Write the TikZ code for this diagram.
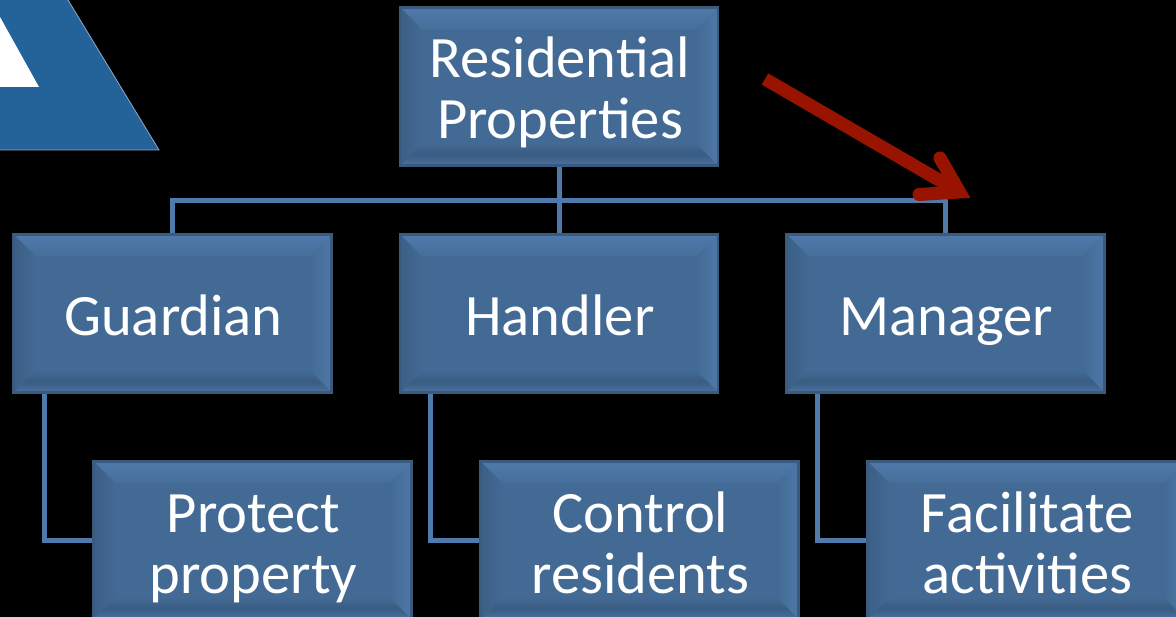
\documentclass[tikz,border=0pt]{standalone}
\usepackage{fontspec}
\setmainfont{Carlito}
\usetikzlibrary{calc}
\definecolor{faceblue}{HTML}{436A94}
\definecolor{toplight}{HTML}{4F79AA}
\definecolor{leftdark}{HTML}{3B5F85}
\definecolor{rightlight}{HTML}{4E78A9}
\definecolor{bottomdark}{HTML}{395C82}
\definecolor{bottomedge}{HTML}{4A729F}
\definecolor{edgeblue}{HTML}{3A5A7E}
\definecolor{linkblue}{HTML}{4F7BAC}
\definecolor{logoblue}{HTML}{246399}
\definecolor{logoedge}{HTML}{8FA9C9}
\definecolor{arrowred}{HTML}{991400}
\newcommand{\ls}[1]{\hspace*{2pt}\rule[-4pt]{0pt}{52pt}\smash{#1}}
\tikzset{
  x=1pt,y=-1pt,
  orgbox/.style={
    minimum width=318pt,minimum height=158pt,inner sep=0pt,
    align=center,text=white,font=\fontsize{58.6}{61}\selectfont,
    draw=edgeblue,line width=2.5pt,fill=faceblue,
    path picture={
      \coordinate (tl) at (path picture bounding box.north west);
      \coordinate (br) at (path picture bounding box.south east);
      \coordinate (tr) at (path picture bounding box.north east);
      \coordinate (bl) at (path picture bounding box.south west);
      \coordinate (itl) at ($(tl)+(22,22)$);
      \coordinate (itr) at ($(tr)+(-22,22)$);
      \coordinate (ibl) at ($(bl)+(22,-22)$);
      \coordinate (ibr) at ($(br)+(-22,-22)$);
      \begin{scope}
        \clip (tl) -- (tr) -- (itr) -- (itl) -- cycle;
        \shade[top color=toplight,bottom color=faceblue!70!toplight] (tl) rectangle (tr |- itr);
      \end{scope}
      \begin{scope}
        \clip (tl) -- (bl) -- (ibl) -- (itl) -- cycle;
        \shade[left color=leftdark,right color=faceblue] (tl) rectangle (ibl |- bl);
      \end{scope}
      \begin{scope}
        \clip (tr) -- (br) -- (ibr) -- (itr) -- cycle;
        \shade[right color=rightlight,left color=faceblue] (itr |- tr) rectangle (br);
      \end{scope}
      \begin{scope}
        \clip (bl) -- (br) -- (ibr) -- (ibl) -- cycle;
        \shade[top color=faceblue,bottom color=bottomedge,middle color=bottomdark] (bl |- ibl) rectangle (br);
      \end{scope}
    }},
  linkline/.style={draw=linkblue,line width=5pt},
  arrowline/.style={draw=arrowred,line width=13pt}
}
\begin{document}
\begin{tikzpicture}
\useasboundingbox (0,0) rectangle (1176,617);
\clip (0,0) rectangle (1176,617);
\fill[black] (0,0) rectangle (1176,617);
% logo
\fill[logoblue] (0,0) -- (68,0) -- (159,150) -- (0,150) -- cycle;
\draw[logoedge,line width=0.8pt] (68,0) -- (159,150) -- (0,150);
\fill[white] (0,17) -- (39,87) -- (0,87) -- cycle;
% boxes
\node[orgbox] (res) at (559,86.5) {\ls{Residential}\\\ls{Properties}};
\node[orgbox] (guardian) at (172.5,313.5) {\ls{Guardian}};
\node[orgbox] (handler) at (559,313.5) {\ls{Handler}};
\node[orgbox] (manager) at (945.5,313.5) {\ls{Manager}};
\node[orgbox] (protect) at (252.5,540.5) {\ls{Protect}\\\ls{property}};
\node[orgbox] (control) at (639.5,540.5) {\ls{Control}\\\ls{residents}};
\node[orgbox] (facil) at (1026.5,540.5) {\ls{Facilitate}\\\ls{activities}};
% connectors
\coordinate (bus) at (559,200.5);
\coordinate (gdrop) at ($(guardian.south west)+(32,0)$);
\coordinate (hdrop) at ($(handler.south west)+(32,0)$);
\coordinate (mdrop) at ($(manager.south west)+(32,0)$);
\draw[linkline] (res.south) -- (handler.north);
\draw[linkline] (guardian.north) |- (bus) -| (manager.north);
\draw[linkline] (gdrop) |- (protect.west);
\draw[linkline] (hdrop) |- (control.west);
\draw[linkline] (mdrop) |- (facil.west);
% arrow
\coordinate (arrowstart) at (765,79);
\coordinate (arrowtip) at (959.5,192);
\coordinate (barbup) at (940,158);
\coordinate (barbdown) at (919,194.5);
\draw[arrowline] (arrowstart) -- (arrowtip);
\draw[arrowline,line cap=round,miter limit=10] (barbup) -- (arrowtip) -- (barbdown);
\end{tikzpicture}
\end{document}
